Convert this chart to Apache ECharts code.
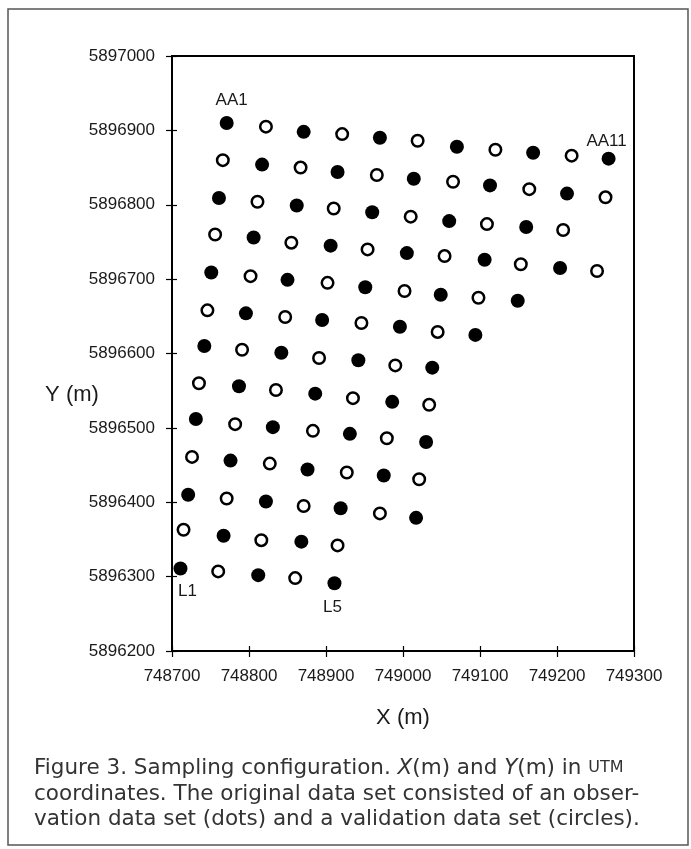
<!DOCTYPE html>
<html>
<head>
<meta charset="utf-8">
<script src="https://cdn.jsdelivr.net/npm/echarts@6/dist/echarts.min.js"></script>
<style>
  html, body { margin: 0; padding: 0; background: #fff; }
  #chart { width: 691px; height: 849px; }
</style>
</head>
<body>
<div id="chart"></div>
<script>
// observation data set (dots), row by row from AA down to L
var obsPoints = [
  [748771, 5896910], [748871, 5896898], [748970, 5896890], [749070, 5896878], [749169, 5896870], [749267, 5896862],
  [748817, 5896854], [748915, 5896844], [749014, 5896835], [749113, 5896826], [749213, 5896815],
  [748761, 5896809], [748862, 5896799], [748960, 5896790], [749060, 5896778], [749160, 5896770],
  [748806, 5896756], [748906, 5896745], [749005, 5896735], [749106, 5896726], [749204, 5896715],
  [748751, 5896709], [748850, 5896699], [748951, 5896689], [749049, 5896679], [749149, 5896671],
  [748796, 5896654], [748895, 5896645], [748996, 5896636], [749094, 5896625],
  [748742, 5896610], [748842, 5896601], [748942, 5896591], [749038, 5896581],
  [748787, 5896556], [748886, 5896546], [748986, 5896535],
  [748731, 5896512], [748831, 5896501], [748931, 5896492], [749030, 5896481],
  [748776, 5896456], [748876, 5896444], [748975, 5896436],
  [748721, 5896410], [748822, 5896401], [748919, 5896392], [749017, 5896379],
  [748767, 5896355], [748868, 5896347],
  [748711, 5896311], [748812, 5896302], [748911, 5896291]
];

// validation data set (circles)
var valPoints = [
  [748822, 5896905], [748921, 5896895], [749019, 5896886], [749120, 5896874], [749219, 5896866],
  [748766, 5896860], [748867, 5896850], [748966, 5896840], [749065, 5896831], [749164, 5896821], [749263, 5896810],
  [748811, 5896804], [748910, 5896795], [749010, 5896784], [749109, 5896774], [749208, 5896766],
  [748756, 5896760], [748855, 5896749], [748954, 5896740], [749054, 5896731], [749153, 5896720], [749252, 5896711],
  [748802, 5896704], [748902, 5896695], [749002, 5896684], [749098, 5896675],
  [748746, 5896658], [748847, 5896649], [748946, 5896641], [749045, 5896629],
  [748791, 5896605], [748891, 5896594], [748990, 5896584],
  [748735, 5896560], [748835, 5896551], [748935, 5896540], [749034, 5896531],
  [748782, 5896505], [748883, 5896496], [748979, 5896486],
  [748726, 5896461], [748827, 5896452], [748927, 5896440], [749021, 5896431],
  [748771, 5896405], [748871, 5896395], [748970, 5896385],
  [748715, 5896363], [748816, 5896349], [748915, 5896342],
  [748760, 5896307], [748860, 5896298]
];

// named corner points of the sampling grid (index into obsPoints)
var pointNames = ['AA1', 'AA11', 'L1', 'L5'];
var pointIndex = [0, 5, 50, 52];
var namePlace = ['top', 'top', 'bottom', 'bottom'];
var nameShift = [[5, -1], [-2, 4], [7, 1], [-2, 2]];

var xTicks = [748700, 749300, 100];
var yTicks = [5896200, 5897000, 100];

var ink = '#000';
var sans = "'Liberation Sans', Arial, Helvetica, sans-serif";
var tickFont = { fontFamily: sans, fontSize: 17, color: '#1a1a1a' };
var capFont = "'DejaVu Sans', sans-serif";

var obsData = obsPoints.map(function (p, i) {
  var k = pointIndex.indexOf(i);
  if (k < 0) return p;
  return {
    value: p,
    label: {
      show: true,
      formatter: pointNames[k],
      position: namePlace[k],
      distance: 6,
      offset: nameShift[k],
      fontFamily: sans,
      fontSize: 17,
      color: '#1a1a1a'
    }
  };
});

function plainAxis(kind, range, main) {
  return {
    type: 'value',
    position: kind === 'x' ? 'bottom' : 'left',
    min: range[0],
    max: range[1],
    interval: range[2],
    splitLine: { show: false },
    axisLine: { show: main, onZero: false, lineStyle: { color: ink, width: 2 } },
    axisTick: { show: true, inside: !main, length: main ? 6 : 5, lineStyle: { color: ink, width: 1.2 } },
    axisLabel: main ? Object.assign({
      margin: 17,
      formatter: function (v) { return String(v); }
    }, tickFont) : { show: false }
  };
}

var chart = echarts.init(document.getElementById('chart'), null, { renderer: 'canvas' });

chart.setOption({
  backgroundColor: '#fff',
  animation: false,
  grid: {
    left: 172, right: 57, top: 56, bottom: 198,
    show: true, borderColor: ink, borderWidth: 2,
    containLabel: false, outerBoundsMode: 'none'
  },
  xAxis: [plainAxis('x', xTicks, true), plainAxis('x', xTicks, false)],
  yAxis: [plainAxis('y', yTicks, true), plainAxis('y', yTicks, false)],
  series: [
    {
      name: 'observation',
      type: 'scatter',
      symbol: 'circle',
      symbolSize: 14,
      itemStyle: { color: ink, opacity: 1 },
      data: obsData
    },
    {
      name: 'validation',
      type: 'scatter',
      symbol: 'circle',
      symbolSize: 11.5,
      itemStyle: { color: '#fff', borderColor: ink, borderWidth: 2.5, opacity: 1 },
      data: valPoints
    }
  ],
  graphic: [
    {
      type: 'rect', silent: true,
      shape: { x: 8, y: 9, width: 680, height: 836 },
      style: { fill: 'none', stroke: '#555', lineWidth: 1.5 }
    },
    {
      type: 'text', silent: true, x: 72, y: 395,
      style: { text: 'Y (m)', fontFamily: sans, fontSize: 22, fill: '#1a1a1a', align: 'center', verticalAlign: 'middle' }
    },
    {
      type: 'text', silent: true, x: 403, y: 718,
      style: { text: 'X (m)', fontFamily: sans, fontSize: 22, fill: '#1a1a1a', align: 'center', verticalAlign: 'middle' }
    },
    {
      type: 'text', silent: true, x: 34, y: 768,
      style: {
        text: 'Figure 3. Sampling configuration. {i|X}(m) and {i|Y}(m) in {sc|UTM}',
        fontFamily: capFont, fontSize: 21.5, fill: '#333', verticalAlign: 'middle',
        rich: {
          i: { fontStyle: 'italic', fontFamily: capFont, fontSize: 21.5, fill: '#333' },
          sc: { fontFamily: capFont, fontSize: 16, fill: '#333' }
        }
      }
    },
    {
      type: 'text', silent: true, x: 34, y: 794,
      style: { text: 'coordinates. The original data set consisted of an obser-', fontFamily: capFont, fontSize: 21.5, fill: '#333', verticalAlign: 'middle' }
    },
    {
      type: 'text', silent: true, x: 34, y: 819,
      style: { text: 'vation data set (dots) and a validation data set (circles).', fontFamily: capFont, fontSize: 21.5, fill: '#333', verticalAlign: 'middle' }
    }
  ]
});
</script>
</body>
</html>
